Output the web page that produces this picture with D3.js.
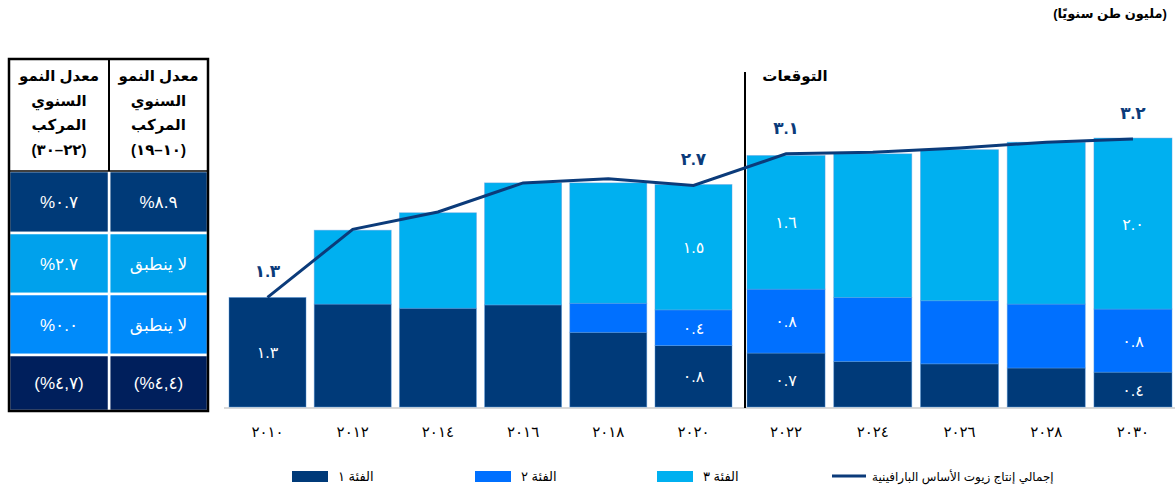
<!DOCTYPE html>
<html lang="ar">
<head>
<meta charset="utf-8">
<script src="https://cdn.jsdelivr.net/npm/d3@7"></script>
<style>
  html, body { margin: 0; padding: 0; background: #ffffff; }
  svg { display: block; font-family: "Liberation Sans", Arial, "DejaVu Sans", sans-serif; }
</style>
</head>
<body>
<svg id="chart" width="1175" height="490"></svg>
<script>
// ---------------- data ----------------
const years = [2010, 2012, 2014, 2016, 2018, 2020, 2022, 2024, 2026, 2028, 2030];
const yearLabels = ["٢٠١٠", "٢٠١٢", "٢٠١٤", "٢٠١٦", "٢٠١٨", "٢٠٢٠", "٢٠٢٢", "٢٠٢٤", "٢٠٢٦", "٢٠٢٨", "٢٠٣٠"];
const historicalYears = [2010, 2012, 2014, 2016, 2018, 2020];
const forecastYears = [2022, 2024, 2026, 2028, 2030];

const cat1 = [1.32, 1.24, 1.19, 1.23, 0.90, 0.74, 0.65, 0.55, 0.52, 0.47, 0.42];
const cat2 = [0.00, 0.00, 0.00, 0.00, 0.35, 0.43, 0.77, 0.77, 0.76, 0.77, 0.76];
const cat3 = [0.00, 0.89, 1.15, 1.47, 1.45, 1.51, 1.61, 1.73, 1.82, 1.95, 2.06];
const total = [1.32, 2.14, 2.35, 2.70, 2.75, 2.67, 3.05, 3.07, 3.12, 3.19, 3.23];

// value labels shown in the chart (year -> text)
const cat1Labels = { 2010: "١.٣", 2020: "٠.٨", 2022: "٠.٧", 2030: "٠.٤" };
const cat2Labels = { 2020: "٠.٤", 2022: "٠.٨", 2030: "٠.٨" };
const cat3Labels = { 2020: "١.٥", 2022: "١.٦", 2030: "٢.٠" };
const totalLabels = { 2010: "١.٣", 2020: "٢.٧", 2022: "٣.١", 2030: "٣.٢" };

const seriesNames = ["الفئة ١", "الفئة ٢", "الفئة ٣"];
const lineName = "إجمالي إنتاج زيوت الأساس البارافينية";
const unitLabel = "(مليون طن سنويًا)";
const forecastLabel = "التوقعات";

// CAGR table
const tableHeaderLines = ["معدل النمو", "السنوي", "المركب"];
const tablePeriods = ["(١٠–١٩)", "(٢٢–٣٠)"];
const cagrHistorical = ["٨.٩%", "لا ينطبق", "لا ينطبق", "(٤,٤%)"];
const cagrForecast = ["٠.٧%", "٢.٧%", "٠.٠%", "(٤,٧%)"];

// ---------------- styles ----------------
const colors = ["#003A79", "#0070FF", "#00B0F0"];
const lineColor = "#0B3B7A";
const rowColors = ["#003A78", "#00A1EC", "#008BFA", "#001F5C"];

// ---------------- chart ----------------
const svg = d3.select("#chart");

const baseY = 407;
const y = d3.scaleLinear().domain([0, 3.5]).range([baseY, baseY - 3.5 * 83]);

const xHist = d3.scaleBand().domain(historicalYears).range([229, 732]).paddingInner(0.096).paddingOuter(0);
const xFore = d3.scaleBand().domain(forecastYears).range([747, 1172]).paddingInner(0.1).paddingOuter(0);
const xBand = yr => historicalYears.includes(yr) ? xHist : xFore;
const xLeft = yr => xBand(yr)(yr);
const bw = yr => xBand(yr).bandwidth();
const xMid = yr => xLeft(yr) + bw(yr) / 2;

// stacked data
const rows = years.map((yr, i) => ({ year: yr, c1: cat1[i], c2: cat2[i], c3: cat3[i] }));
const stack = d3.stack().keys(["c1", "c2", "c3"]);
const stacked = stack(rows);

// baseline
svg.append("line")
  .attr("x1", 224).attr("x2", 1175)
  .attr("y1", baseY + 1).attr("y2", baseY + 1)
  .attr("stroke", "#D9D9D9").attr("stroke-width", 2);

// bars
const gBars = svg.append("g");
stacked.forEach((layer, li) => {
  gBars.selectAll(null)
    .data(layer.filter(d => d[1] - d[0] > 0))
    .join("rect")
    .attr("x", d => xLeft(d.data.year))
    .attr("width", d => bw(d.data.year))
    .attr("y", d => y(d[1]))
    .attr("height", d => y(d[0]) - y(d[1]))
    .attr("fill", colors[li])
    .attr("stroke", "#5A9BE0")
    .attr("stroke-opacity", 0.55)
    .attr("stroke-width", 0.8);
});

// segment labels
const segLabels = [cat1Labels, cat2Labels, cat3Labels];
stacked.forEach((layer, li) => {
  svg.append("g").selectAll("text")
    .data(layer.filter(d => segLabels[li][d.data.year] !== undefined))
    .join("text")
    .attr("x", d => xMid(d.data.year))
    .attr("y", d => (y(d[0]) + y(d[1])) / 2 + 6)
    .attr("text-anchor", "middle")
    .attr("fill", "#ffffff")
    .attr("font-size", 16)
    .text(d => segLabels[li][d.data.year]);
});

// forecast divider
svg.append("line")
  .attr("x1", 745).attr("x2", 745)
  .attr("y1", 72).attr("y2", baseY + 1)
  .attr("stroke", "#000").attr("stroke-width", 2);
svg.append("text")
  .attr("x", 795).attr("y", 81)
  .attr("text-anchor", "middle")
  .attr("font-weight", "bold")
  .attr("font-size", 15)
  .style("direction", "rtl")
  .text(forecastLabel);

// total line
const line = d3.line().x((d, i) => xMid(years[i])).y(d => y(d));
svg.append("path")
  .datum(total)
  .attr("d", line)
  .attr("fill", "none")
  .attr("stroke", lineColor)
  .attr("stroke-width", 3);

svg.append("g").selectAll("text")
  .data(years.filter(yr => totalLabels[yr] !== undefined))
  .join("text")
  .attr("x", yr => xMid(yr))
  .attr("y", yr => y(total[years.indexOf(yr)]) - 20)
  .attr("text-anchor", "middle")
  .attr("fill", lineColor)
  .attr("font-size", 17)
  .attr("font-weight", "bold")
  .text(yr => totalLabels[yr]);

// x axes
const fmt = yr => yearLabels[years.indexOf(yr)];
[xHist, xFore].forEach(sc => {
  const ax = svg.append("g")
    .attr("transform", `translate(0,${baseY + 1})`)
    .call(d3.axisBottom(sc).tickSize(0).tickPadding(18).tickFormat(fmt));
  ax.select(".domain").remove();
  ax.selectAll("text")
    .attr("font-size", 15)
    .attr("fill", "#000")
    .attr("font-family", "\"Liberation Sans\", Arial, \"DejaVu Sans\", sans-serif")
    .attr("letter-spacing", 2);
});

// unit label
svg.append("text")
  .attr("x", 1110).attr("y", 18)
  .attr("text-anchor", "middle")
  .attr("font-weight", "bold")
  .attr("font-size", 13)
  .style("direction", "rtl")
  .text(unitLabel);

// legend
const legendX = [292, 475, 657];
const leg = svg.append("g");
seriesNames.forEach((name, i) => {
  leg.append("rect")
    .attr("x", legendX[i]).attr("y", 471)
    .attr("width", 36).attr("height", 11)
    .attr("fill", colors[i]);
  leg.append("text")
    .attr("x", legendX[i] + 46).attr("y", 481)
    .attr("text-anchor", "end")
    .style("direction", "rtl")
    .attr("font-size", 13)
    .text(name);
});
leg.append("line")
  .attr("x1", 832).attr("x2", 866)
  .attr("y1", 476).attr("y2", 476)
  .attr("stroke", lineColor).attr("stroke-width", 3);
leg.append("text")
  .attr("x", 872).attr("y", 481)
  .attr("text-anchor", "end")
  .style("direction", "rtl")
  .attr("font-size", 12)
  .text(lineName);

// ---------------- table ----------------
const tbl = svg.append("g");
const tLeft = 9, tRight = 208, tTop = 59, tHeadBottom = 171, tBottom = 411, tMid = 109;
const rowEdges = [171, 233, 294, 355, 411];
const colCenters = [(tMid + tRight) / 2, (tLeft + tMid) / 2];

// body cells
const cagrCols = [cagrHistorical, cagrForecast];
cagrCols.forEach((col, ci) => {
  col.forEach((val, ri) => {
    const x0 = ci === 0 ? tMid : tLeft;
    const x1 = ci === 0 ? tRight : tMid;
    tbl.append("rect")
      .attr("x", x0).attr("y", rowEdges[ri])
      .attr("width", x1 - x0).attr("height", rowEdges[ri + 1] - rowEdges[ri])
      .attr("fill", rowColors[ri])
      .attr("stroke", "#ffffff").attr("stroke-width", 2.5);
    tbl.append("text")
      .attr("x", colCenters[ci])
      .attr("y", (rowEdges[ri] + rowEdges[ri + 1]) / 2 + 6)
      .attr("text-anchor", "middle")
      .style("direction", "rtl")
      .attr("fill", "#ffffff")
      .attr("font-size", 17)
      .text(val);
  });
});

// header
tbl.append("rect")
  .attr("x", tLeft).attr("y", tTop)
  .attr("width", tRight - tLeft).attr("height", tHeadBottom - tTop)
  .attr("fill", "#ffffff");
tablePeriods.forEach((p, ci) => {
  const lines = tableHeaderLines.concat([p]);
  lines.forEach((ln, li) => {
    tbl.append("text")
      .attr("x", colCenters[ci])
      .attr("y", 81 + li * 24.5)
      .attr("text-anchor", "middle")
      .style("direction", "rtl")
      .attr("font-weight", "bold")
      .attr("font-size", 15)
      .attr("fill", "#000")
      .text(ln);
  });
});
tbl.append("line")
  .attr("x1", tMid).attr("x2", tMid)
  .attr("y1", tTop).attr("y2", tHeadBottom)
  .attr("stroke", "#000").attr("stroke-width", 2);
tbl.append("line")
  .attr("x1", tLeft).attr("x2", tRight)
  .attr("y1", tHeadBottom).attr("y2", tHeadBottom)
  .attr("stroke", "#000").attr("stroke-width", 1.5);
tbl.append("rect")
  .attr("x", tLeft).attr("y", tTop)
  .attr("width", tRight - tLeft).attr("height", tBottom - tTop)
  .attr("fill", "none")
  .attr("stroke", "#000").attr("stroke-width", 2.5);
</script>
</body>
</html>
